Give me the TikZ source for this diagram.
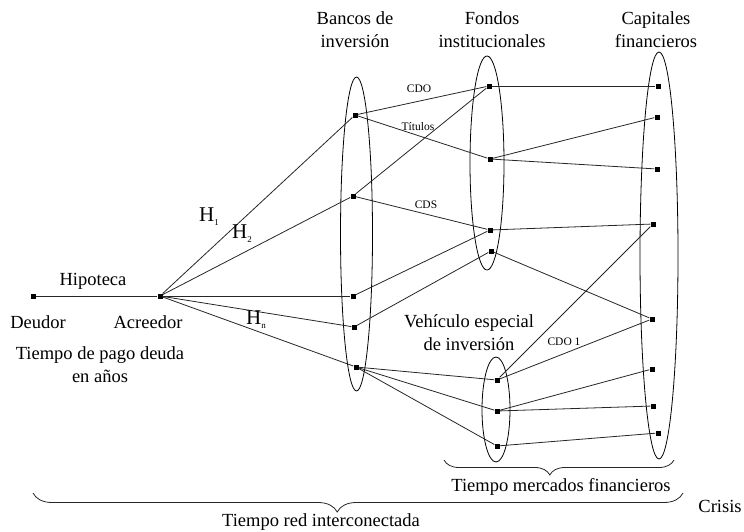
\documentclass[tikz,border=0pt]{standalone}
\usepackage{fontspec}
\setmainfont{Liberation Serif}
\usetikzlibrary{decorations.pathreplacing}
\begin{document}
\begin{tikzpicture}[x=1pt,y=-1pt,
 dot/.style={rectangle,fill=black,inner sep=0,minimum size=5pt},
 conn/.style={draw=black!85,line width=0.8pt},
 grp/.style={draw=black,line width=0.8pt},
 lbl/.style={font=\fontsize{18.5}{23}\selectfont,align=center,inner sep=0},
 hlbl/.style={font=\fontsize{21}{23}\selectfont,inner sep=0,anchor=west},
 sml/.style={font=\fontsize{11.5}{13}\selectfont,inner sep=0},
 brc/.style={draw=black!85,line width=0.8pt,decorate,decoration={brace,amplitude=#1,aspect=0.54}}]
\useasboundingbox (0,0) rectangle (744,531);

% group ellipses
\draw[grp] (356.5,234) ellipse [x radius=16, y radius=157];
\draw[grp] (487,163) ellipse [x radius=17, y radius=107];
\draw[grp] (659,255.5) ellipse [x radius=19, y radius=203.5];
\draw[grp] (496,409.5) ellipse [x radius=14, y radius=52.5];

% nodes
\node[dot] (D) at (33,296) {};
\node[dot] (A) at (160,296) {};
\node[dot] (B1) at (355,115) {};
\node[dot] (B2) at (353,196) {};
\node[dot] (B3) at (353,296) {};
\node[dot] (B4) at (354,327) {};
\node[dot] (B5) at (356,367) {};
\node[dot] (F1) at (489,86) {};
\node[dot] (F2) at (490,159) {};
\node[dot] (F3) at (490,230) {};
\node[dot] (F4) at (491,251) {};
\node[dot] (C1) at (658,86) {};
\node[dot] (C2) at (657,117) {};
\node[dot] (C3) at (657,169) {};
\node[dot] (C4) at (653,224) {};
\node[dot] (C5) at (652,319) {};
\node[dot] (C6) at (652,369) {};
\node[dot] (C7) at (653,406) {};
\node[dot] (C8) at (658,433) {};
\node[dot] (V1) at (497,380) {};
\node[dot] (V2) at (497,411) {};
\node[dot] (V3) at (497,446) {};

% connectors
\draw[conn] (D) -- (A);
\draw[conn] (A) -- (B1);
\draw[conn] (A) -- (B2);
\draw[conn] (A) -- (B3);
\draw[conn] (A) -- (B4);
\draw[conn] (A) -- (B5);
\draw[conn] (B1) -- (F1);
\draw[conn] (B1) -- (F2);
\draw[conn] (B2) -- (F1);
\draw[conn] (B2) -- (F3);
\draw[conn] (B3) -- (F3);
\draw[conn] (B4) -- (F4);
\draw[conn] (B5) -- (V1);
\draw[conn] (B5) -- (V2);
\draw[conn] (B5) -- (V3);
\draw[conn] (F1) -- (C1);
\draw[conn] (F2) -- (C2);
\draw[conn] (F2) -- (C3);
\draw[conn] (F3) -- (C4);
\draw[conn] (F4) -- (C5);
\draw[conn] (V1) -- (C4);
\draw[conn] (V1) -- (C5);
\draw[conn] (V2) -- (C6);
\draw[conn] (V2) -- (C7);
\draw[conn] (V3) -- (C8);

% labels
\node[lbl] (tB) at (355,30) {Bancos de\\inversión};
\node[lbl] (tF) at (492,30) {Fondos\\institucionales};
\node[lbl] (tC) at (656,30) {Capitales\\financieros};
\node[lbl] (tV) at (469,333) {Vehículo especial\\de inversión};
\node[lbl] (tHip) at (93,281) {Hipoteca};
\node[lbl] (tDeu) at (38,322) {Deudor};
\node[lbl] (tAcr) at (148,322) {Acreedor};
\node[lbl] (tPago) at (100,365) {Tiempo de pago deuda\\en años};
\node[hlbl] (tH1) at (199,217) {H\raisebox{-4pt}{\fontsize{9}{9}\selectfont 1}};
\node[hlbl] (tH2) at (232,234) {H\raisebox{-4pt}{\fontsize{9}{9}\selectfont 2}};
\node[hlbl] (tHn) at (246,320) {H\raisebox{-4pt}{\fontsize{9}{9}\selectfont n}};
\node[sml] (tCDO) at (419,89) {CDO};
\node[sml] (tTit) at (418,127) {Títulos};
\node[sml] (tCDS) at (426,205) {CDS};
\node[sml] (tCDO1) at (564,342) {CDO 1};

% braces
\coordinate (b1s) at (674,460);
\coordinate (b1e) at (444,460);
\coordinate (b2s) at (683,493);
\coordinate (b2e) at (33,493);
\draw[brc=15] (b1s) -- (b1e);
\draw[brc=19,decoration={aspect=0.532}] (b2s) -- (b2e);
\node[lbl] (tMerc) at (561,487) {Tiempo mercados financieros};
\node[lbl] (tRed) at (321,522) {Tiempo red interconectada};
\node[lbl] (tCri) at (720,506) {Crisis};
\end{tikzpicture}
\end{document}
